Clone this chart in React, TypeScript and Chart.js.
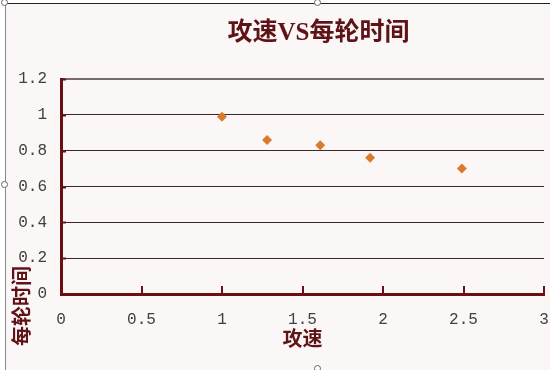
import React, { useEffect, useRef } from "react";
import { Chart, registerables } from "chart.js";

Chart.register(...registerables);

const chartTitle = "攻速VS每轮时间";
const xAxisTitle = "攻速";
const yAxisTitle = "每轮时间";

const attackSpeed = [1.0, 1.28, 1.61, 1.92, 2.49];
const roundTime = [0.99, 0.86, 0.83, 0.76, 0.7];

const xTickLabels = ["0", "0.5", "1", "1.5", "2", "2.5", "3"];
const yTickLabels = ["0", "0.2", "0.4", "0.6", "0.8", "1", "1.2"];

const AXIS_COLOR = "#6a0f12";
const TEXT_RED = "#5e1416";
const CJK_FONT = '"Liberation Serif", "Noto Sans CJK SC", serif';

const excelDecor = {
  id: "excelDecor",
  beforeDatasetsDraw(chart: any) {
    const { ctx, chartArea, scales } = chart;
    const xs = scales.x;
    const ys = scales.y;
    ctx.save();
    ctx.strokeStyle = AXIS_COLOR;
    ctx.lineWidth = 2;
    xs.ticks.forEach((t: any, i: number) => {
      if (i === 0) return;
      const px = Math.round(xs.getPixelForValue(t.value));
      ctx.beginPath();
      ctx.moveTo(px, chartArea.bottom);
      ctx.lineTo(px, chartArea.bottom - 8);
      ctx.stroke();
    });
    ys.ticks.forEach((t: any, i: number) => {
      if (i === 0) return;
      const py = Math.round(ys.getPixelForValue(t.value)) + 0.5;
      ctx.beginPath();
      ctx.moveTo(chartArea.left, py);
      ctx.lineTo(chartArea.left + 5, py);
      ctx.stroke();
    });
    ctx.restore();
  },
  afterDraw(chart: any) {
    const { ctx, chartArea } = chart;
    ctx.save();
    ctx.fillStyle = TEXT_RED;
    ctx.textAlign = "center";
    ctx.textBaseline = "middle";
    ctx.font = `bold 25px ${CJK_FONT}`;
    ctx.fillText(chartTitle, (chartArea.left + chartArea.right) / 2 + 16, 30);
    ctx.translate(18, chartArea.bottom + 12);
    ctx.rotate(-Math.PI / 2);
    ctx.font = `bold 20px ${CJK_FONT}`;
    ctx.fillText(yAxisTitle, 0, 0);
    ctx.restore();
  },
};

export default function App() {
  const canvasRef = useRef<HTMLCanvasElement | null>(null);

  useEffect(() => {
    if (!canvasRef.current) return;
    const chart = new Chart(canvasRef.current, {
      type: "scatter",
      data: {
        datasets: [
          {
            label: yAxisTitle,
            data: attackSpeed.map((x, i) => ({ x, y: roundTime[i] })),
            pointStyle: "rectRot",
            pointRadius: 5,
            pointBackgroundColor: "#dc7a2c",
            pointBorderColor: "#dc7a2c",
            pointBorderWidth: 0,
          },
        ],
      },
      options: {
        animation: false,
        responsive: false,
        maintainAspectRatio: false,
        layout: { padding: { top: 75, right: 6, left: 0, bottom: 0 } },
        plugins: {
          legend: { display: false },
          tooltip: { enabled: false },
          title: { display: false },
        },
        scales: {
          x: {
            type: "linear",
            min: 0,
            max: 3,
            afterFit: (s: any) => {
              s.height = 76;
              s.paddingLeft = 0;
              s.paddingRight = 0;
            },
            border: { display: true, color: AXIS_COLOR, width: 3 },
            grid: { display: false, drawTicks: false },
            ticks: {
              stepSize: 0.5,
              padding: 16,
              color: "#404040",
              font: { family: '"Liberation Mono", monospace', size: 16 },
              callback: (_v: any, i: number) => xTickLabels[i],
              maxRotation: 0,
            },
            title: {
              display: true,
              text: xAxisTitle,
              color: TEXT_RED,
              font: { family: CJK_FONT, size: 20, weight: "bold" },
              padding: { top: 0, bottom: 17 },
            },
          },
          y: {
            type: "linear",
            min: 0,
            max: 1.2,
            afterFit: (s: any) => {
              s.width = 55;
            },
            border: { display: true, color: AXIS_COLOR, width: 3 },
            grid: {
              drawTicks: false,
              color: (c: any) => (c.index === 6 ? "#766a6a" : c.index === 0 ? "rgba(0,0,0,0)" : "#3c2828"),
              lineWidth: (c: any) => (c.index === 6 ? 2 : 1),
            },
            ticks: {
              stepSize: 0.2,
              padding: 14,
              color: "#404040",
              font: { family: '"Liberation Mono", monospace', size: 16 },
              callback: (_v: any, i: number) => yTickLabels[i],
            },
          },
        },
      },
      plugins: [excelDecor],
    });
    return () => chart.destroy();
  }, []);

  const handle = (left: number, top: number): React.CSSProperties => ({
    position: "absolute",
    left: left - 4,
    top: top - 4,
    width: 7,
    height: 7,
    borderRadius: "50%",
    border: "1px solid #666",
    background: "#fff",
    boxSizing: "border-box",
  });

  return (
    <div style={{ position: "fixed", left: 0, top: 0, width: 550, height: 370, background: "#ffffff", overflow: "hidden" }}>
      <div
        style={{
          position: "absolute",
          left: 5,
          top: 3,
          width: 545,
          height: 367,
          borderTop: "1px solid #222",
          borderLeft: "1px solid #888",
          background: "#fcf7f7",
        }}
      >
        <canvas ref={canvasRef} width={544} height={366} style={{ display: "block", width: 544, height: 366 }} />
      </div>
      <div style={handle(5, 3)} />
      <div style={handle(5, 185)} />
      <div style={handle(318, 3)} />
      <div style={handle(318, 369)} />
    </div>
  );
}
